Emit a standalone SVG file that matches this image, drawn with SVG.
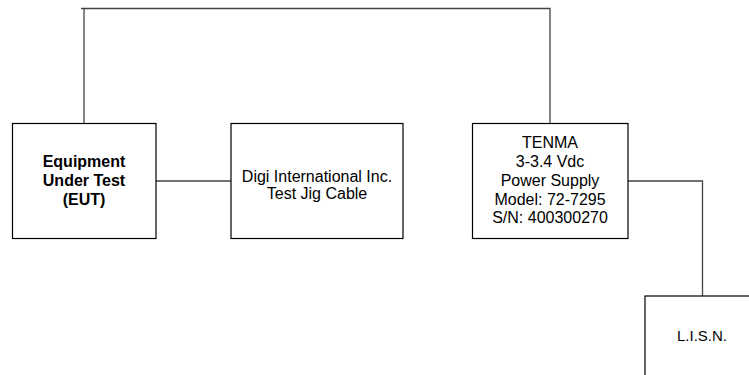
<svg xmlns="http://www.w3.org/2000/svg" width="749" height="375" viewBox="0 0 749 375">
<style>
.box{fill:#fff;stroke:#000;stroke-width:1.2}
.t{font-family:"Liberation Sans",Arial,sans-serif;font-size:16px;fill:#000;text-anchor:middle}
.b{font-weight:bold}
.c{fill:none;stroke:#444;stroke-width:1.3}
</style>
<rect width="749" height="375" fill="#fff"/>
<g id="connectors">
<path class="c" d="M81,8.5 H550 V123.5"/>
<path class="c" d="M84,8.5 V123.5"/>
<path class="c" d="M156,181 H231"/>
<path class="c" d="M628,181 H702.5 V296"/>
</g>
<g id="eut">
<rect class="box" x="12.5" y="123.5" width="143.5" height="115"/>
<text class="t b" x="84" y="167">Equipment</text>
<text class="t b" x="84" y="186">Under Test</text>
<text class="t b" x="84" y="205">(EUT)</text>
</g>
<g id="digi">
<rect class="box" x="231" y="123.5" width="172" height="115"/>
<text class="t" x="317" y="181.5">Digi International Inc.</text>
<text class="t" x="317" y="199">Test Jig Cable</text>
</g>
<g id="tenma">
<rect class="box" x="472.5" y="123.5" width="155.5" height="115"/>
<text class="t" x="550" y="147.5">TENMA</text>
<text class="t" x="550" y="166.5">3-3.4 Vdc</text>
<text class="t" x="550" y="185.5">Power Supply</text>
<text class="t" x="550" y="204.5">Model: 72-7295</text>
<text class="t" x="550" y="223">S/N: 400300270</text>
</g>
<g id="lisn">
<rect class="box" x="645" y="296" width="120" height="100"/>
<text class="t" x="702" y="340.5" style="font-size:15px">L.I.S.N.</text>
</g>
</svg>
